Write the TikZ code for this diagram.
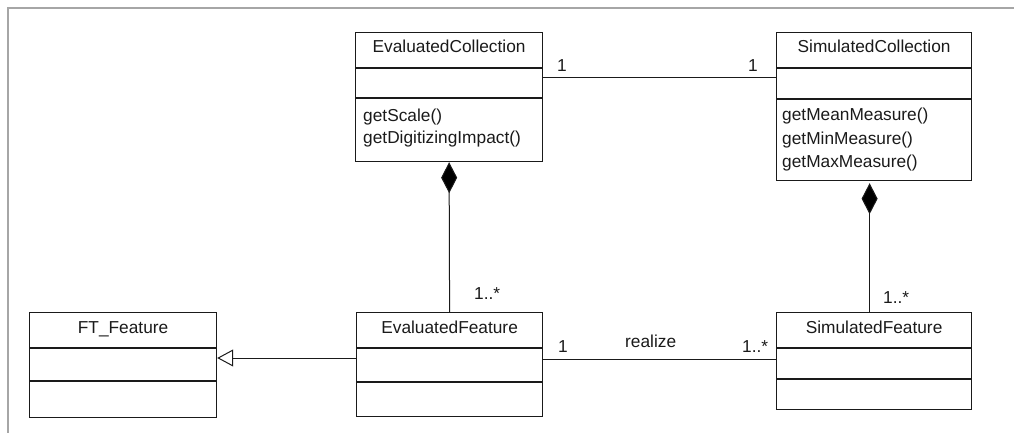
\documentclass[tikz,border=0pt]{standalone}
\usepackage{fontspec}
\setmainfont{Liberation Sans}
\usetikzlibrary{arrows.meta}
\definecolor{framegray}{HTML}{A6A6A6}
\definecolor{ink}{HTML}{1A1A1A}
\begin{document}
\begin{tikzpicture}[x=1pt,y=-1pt,
  every node/.style={text=ink, font=\fontsize{17.3}{21}\selectfont},
  classbox/.style={draw=ink, line width=1.2pt, anchor=north west, inner sep=0pt},
  divider/.style={draw=ink, line width=2.2pt},
  titletext/.style={anchor=base, inner sep=0pt},
  optext/.style={anchor=base west, inner sep=0pt},
  lbl/.style={anchor=base west, inner sep=0pt},
  conn/.style={draw=ink, line width=1pt},
  compo/.style={conn, {Diamond[length=31pt, width=16pt, fill=black]}-},
  gener/.style={conn, -{Triangle[open, length=16pt, width=17pt, fill=white]}}
]
\useasboundingbox (0,0) rectangle (1014,433);
% frame
\draw[framegray, line width=1.3pt] (8,433) -- (8,8) -- (1014,8);

% EvaluatedCollection
\node[classbox, minimum width=187pt, minimum height=129pt] (ec) at (355,32) {};
\draw[divider] ([yshift=-36pt]ec.north west) -- ([yshift=-36pt]ec.north east);
\draw[divider] ([yshift=-66pt]ec.north west) -- ([yshift=-66pt]ec.north east);
\node[titletext] (ec-t) at ([yshift=-21pt]ec.north) {EvaluatedCollection};
\node[optext] (ec-o1) at (363,122) {getScale()};
\node[optext] (ec-o2) at (363,143) {getDigitizingImpact()};

% SimulatedCollection
\node[classbox, minimum width=195pt, minimum height=148pt] (sc) at (776,32) {};
\draw[divider] ([yshift=-36pt]sc.north west) -- ([yshift=-36pt]sc.north east);
\draw[divider] ([yshift=-67pt]sc.north west) -- ([yshift=-67pt]sc.north east);
\node[titletext] (sc-t) at ([yshift=-21pt]sc.north) {SimulatedCollection};
\node[optext] (sc-o1) at (782,121) {getMeanMeasure()};
\node[optext] (sc-o2) at (782,144) {getMinMeasure()};
\node[optext] (sc-o3) at (782,167) {getMaxMeasure()};

% FT_Feature
\node[classbox, minimum width=187pt, minimum height=105pt] (ft) at (29,312) {};
\draw[divider] ([yshift=-36pt]ft.north west) -- ([yshift=-36pt]ft.north east);
\draw[divider] ([yshift=-69pt]ft.north west) -- ([yshift=-69pt]ft.north east);
\node[titletext] (ft-t) at ([yshift=-21pt]ft.north) {FT\_Feature};

% EvaluatedFeature
\node[classbox, minimum width=186pt, minimum height=104pt] (ef) at (356,312) {};
\draw[divider] ([yshift=-36pt]ef.north west) -- ([yshift=-36pt]ef.north east);
\draw[divider] ([yshift=-70pt]ef.north west) -- ([yshift=-70pt]ef.north east);
\node[titletext] (ef-t) at ([yshift=-21pt]ef.north) {EvaluatedFeature};

% SimulatedFeature
\node[classbox, minimum width=195pt, minimum height=97pt] (sf) at (776,312) {};
\draw[divider] ([yshift=-36pt]sf.north west) -- ([yshift=-36pt]sf.north east);
\draw[divider] ([yshift=-67pt]sf.north west) -- ([yshift=-67pt]sf.north east);
\node[titletext] (sf-t) at ([yshift=-21pt]sf.north) {SimulatedFeature};

% connectors
\draw[conn] ([yshift=-46pt]ec.north east) -- ([yshift=-46pt]sc.north west);
\draw[compo] (ec.south) -- (ef.north);
\draw[compo] ([xshift=-4.5pt,yshift=-2pt]sc.south) -- ([xshift=-4.5pt]sf.north);
\draw[conn] ([yshift=-47pt]ef.north east) -- ([yshift=-47pt]sf.north west);
\draw[gener] ([yshift=-46pt]ef.north west) -- ([yshift=-46pt]ft.north east);

% labels
\node[lbl] (l1) at (557,72) {1};
\node[lbl] (l2) at (748,72) {1};
\node[lbl] (l3) at (474,299) {1..*};
\node[lbl] (l4) at (883,303) {1..*};
\node[lbl] (l5) at (558,352) {1};
\node[lbl] (l6) at (625,347) {realize};
\node[lbl] (l7) at (742,352) {1..*};
\end{tikzpicture}
\end{document}
